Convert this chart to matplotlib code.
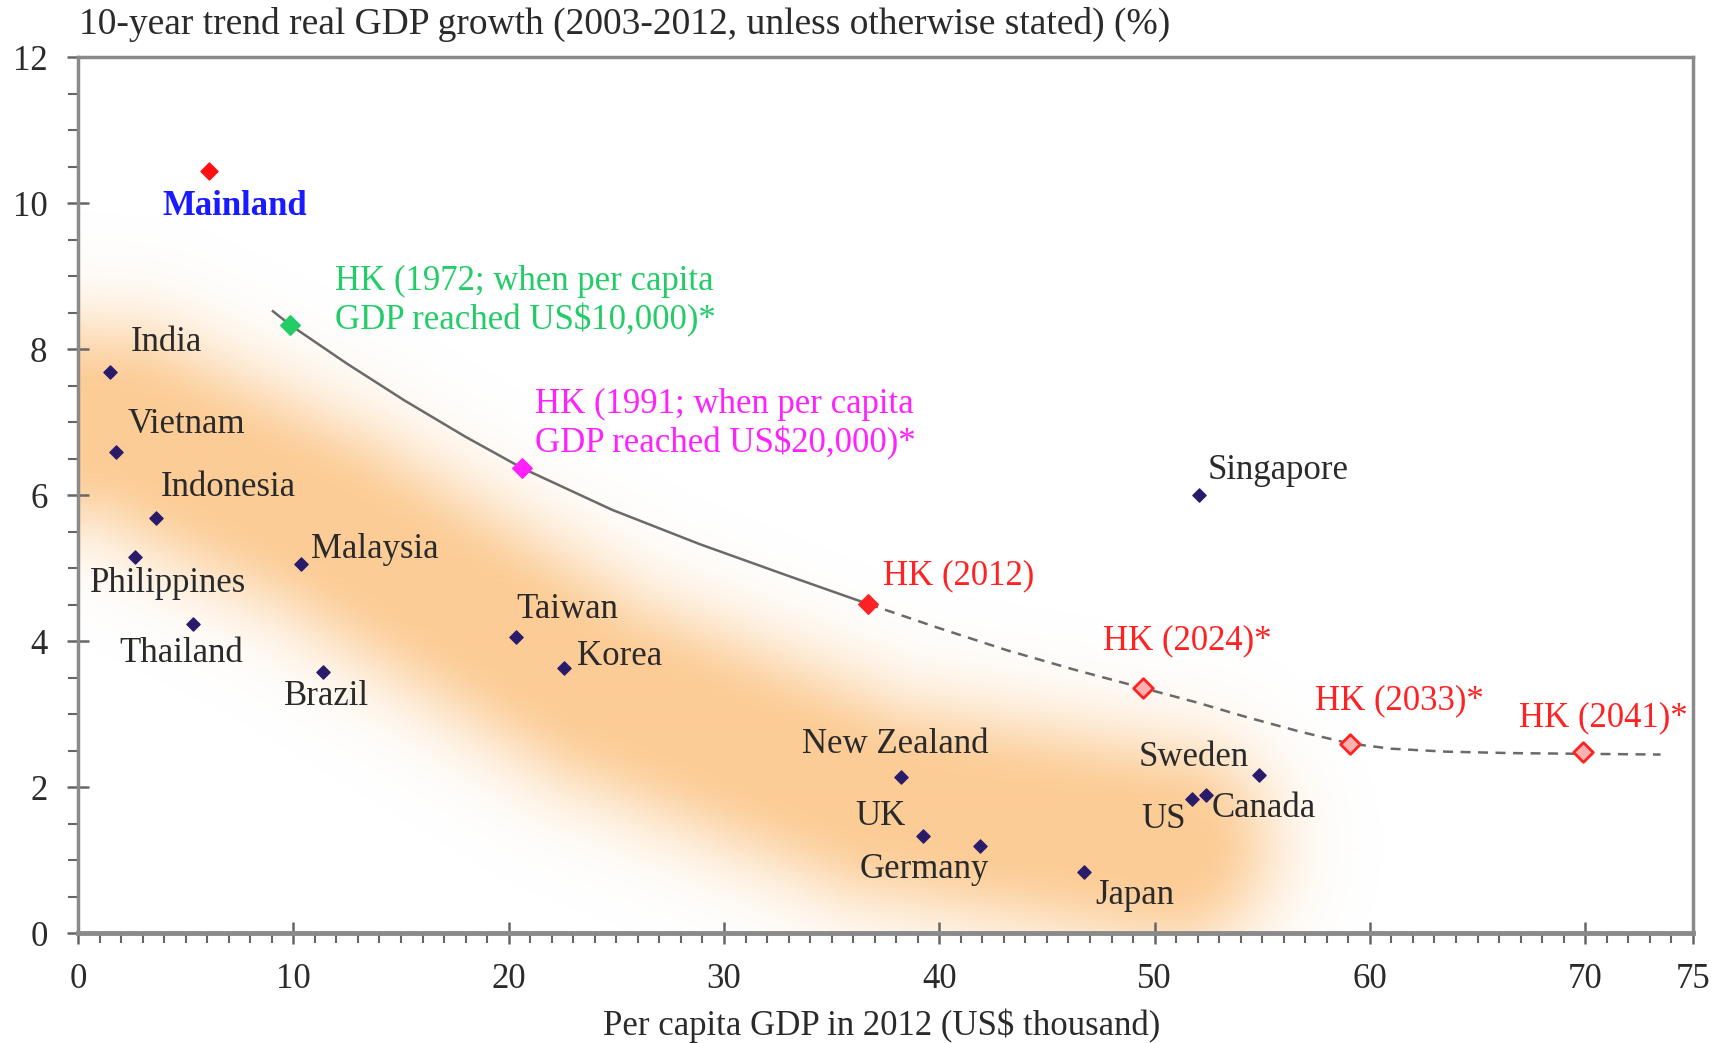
"""
plot.py
Trend real GDP growth vs per capita GDP, with the HK trajectory.
"""
import numpy as np
import matplotlib
matplotlib.use('Agg')
import matplotlib.pyplot as plt
from matplotlib.ticker import MultipleLocator, FixedLocator

plt.rcParams['font.family'] = ['Liberation Serif', 'DejaVu Serif']

# === DATA ===
countries = ['India', 'Vietnam', 'Indonesia', 'Philippines', 'Thailand', 'Brazil',
             'Malaysia', 'Taiwan', 'Korea', 'New Zealand', 'UK', 'Germany',
             'Japan', 'US', 'Canada', 'Sweden', 'Singapore']
gdp_pc = [1.47, 1.78, 3.61, 2.64, 5.34, 11.39, 10.37, 20.34, 22.58, 38.24, 39.25,
          41.9, 46.73, 51.76, 52.37, 54.86, 52.07]
growth = [7.69, 6.59, 5.69, 5.15, 4.24, 3.58, 5.06, 4.06, 3.64, 2.14, 1.33,
          1.20, 0.84, 1.84, 1.89, 2.17, 6.01]
# label anchor (left edge, vertical centre)
label_x = [2.44, 2.29, 3.86, 0.56, 1.93, 9.56, 10.83, 20.34, 23.19, 33.61, 36.1,
           36.3, 47.24, 49.37, 52.63, 49.27, 52.47]
label_y = [8.09, 6.97, 6.10, 4.79, 3.84, 3.24, 5.26, 4.43, 3.79, 2.59, 1.60,
           0.87, 0.52, 1.56, 1.71, 2.41, 6.34]

mainland = (6.1, 10.44)

hk_labels = ['HK (1972; when per capita\nGDP reached US$10,000)*',
             'HK (1991; when per capita\nGDP reached US$20,000)*',
             'HK (2012)', 'HK (2024)*', 'HK (2033)*', 'HK (2041)*']
hk_x = [9.86, 20.64, 36.71, 49.47, 59.08, 69.91]
hk_y = [8.33, 6.37, 4.51, 3.36, 2.59, 2.49]
hk_label_x = [11.95, 21.2, 37.37, 47.59, 57.46, 66.91]
hk_label_y = [8.66, 6.98, 4.90, 4.01, 3.18, 2.95]
hk_colors = ['#22cc66', '#ff22ff', '#ff2222', '#ff2222', '#ff2222', '#ff2222']

# trend line: solid up to 2012, dashed projection after
trend_x_solid = [9.05, 9.86, 12.5, 15.15, 18.0, 20.64, 24.81, 28.88, 32.95, 36.71]
trend_y_solid = [8.52, 8.33, 7.80, 7.30, 6.80, 6.37, 5.80, 5.33, 4.90, 4.51]
trend_x_dash = [36.71, 40.0, 43.12, 46.3, 49.47, 52.0, 54.3, 56.8, 59.08, 61.0,
                63.5, 66.5, 69.91, 73.5]
trend_y_dash = [4.51, 4.18, 3.88, 3.61, 3.36, 3.16, 2.96, 2.76, 2.60, 2.53,
                2.49, 2.47, 2.46, 2.45]

TEXT = '#2a2a2a'
SPINE = '#8a8a8a'
FS = 25

fig = plt.figure(figsize=(17.16, 10.43), dpi=100)
ax = fig.add_axes([0.0455, 0.105, 0.941, 0.8403])
ax.set_xlim(0, 75)
ax.set_ylim(0, 12)

# === ORANGE BAND (decorative shading) ===
W, H = 1615, 876
yy, xx = np.mgrid[0:H, 0:W]
xx = xx + 0.5
yy = H - (yy + 0.5)
# centre line of the band, axes fraction
path = np.array([[-0.01, 0.58], [0.03, 0.575], [0.155, 0.466], [0.324, 0.278],
                 [0.495, 0.153], [0.675, 0.100]])
path[:, 0] *= W
path[:, 1] *= H
dist = np.full(xx.shape, np.inf)
for (x0, y0), (x1, y1) in zip(path[:-1], path[1:]):
    dx, dy = x1 - x0, y1 - y0
    t = np.clip(((xx - x0) * dx + (yy - y0) * dy) / (dx * dx + dy * dy), 0, 1)
    d = np.hypot(xx - (x0 + t * dx), yy - (y0 + t * dy))
    dist = np.minimum(dist, d)
inten = 0.95 * np.exp(-(np.maximum(dist - 36, 0) / 76.0) ** 2)
band = np.zeros((H, W, 4))
band[..., 0] = 252 / 255
band[..., 1] = 202 / 255
band[..., 2] = 145 / 255
band[..., 3] = inten
ax.imshow(band, extent=[0, 1, 0, 1], transform=ax.transAxes, aspect='auto',
          zorder=0, interpolation='bilinear')

# === TREND LINE ===
ax.plot(trend_x_solid, trend_y_solid, color='#6a6a6a', lw=1.8, zorder=3)
ax.plot(trend_x_dash, trend_y_dash, color='#6a6a6a', lw=1.8, ls=(0, (4, 3)), zorder=3)

# === COUNTRIES ===
ax.scatter(gdp_pc, growth, marker='D', s=45, color='#2a1b6a', zorder=4)
for name, lx, ly in zip(countries, label_x, label_y):
    ax.text(lx, ly, name, fontsize=FS, color=TEXT, ha='left', va='center', zorder=5)

ax.scatter([mainland[0]], [mainland[1]], marker='D', s=75, color='#ff1010', zorder=4)
ax.text(3.92, 9.95, 'Mainland', fontsize=FS, color='#1a1aff', fontweight='bold',
        ha='left', va='center', zorder=5)

# === HK POINTS ===
for i, (x, y, c) in enumerate(zip(hk_x, hk_y, hk_colors)):
    if i < 3:
        ax.scatter([x], [y], marker='D', s=100, color=c, zorder=6)
    else:
        ax.scatter([x], [y], marker='D', s=100, facecolor='#ffb0b0', edgecolor=c,
                   linewidth=2, zorder=6)
for lab, lx, ly, c in zip(hk_labels, hk_label_x, hk_label_y, hk_colors):
    ax.text(lx, ly, lab, fontsize=FS, color=c, ha='left', va='center',
            linespacing=1.2, zorder=6)

# === AXES STYLE ===
for side in ['left', 'bottom', 'top', 'right']:
    ax.spines[side].set_color(SPINE)
    ax.spines[side].set_linewidth(2.5)
ax.spines['bottom'].set_linewidth(3.5)

ax.xaxis.set_major_locator(FixedLocator([0, 10, 20, 30, 40, 50, 60, 70, 75]))
ax.xaxis.set_minor_locator(MultipleLocator(1))
ax.yaxis.set_major_locator(MultipleLocator(2))
ax.yaxis.set_minor_locator(MultipleLocator(0.5))
ax.tick_params(axis='both', which='major', direction='inout', length=16, width=1.8,
               color='#666666', labelsize=FS, labelcolor=TEXT)
ax.tick_params(axis='both', which='minor', direction='out', length=7, width=1.5,
               color='#666666')
ax.tick_params(axis='x', which='major', pad=13)
ax.tick_params(axis='y', which='major', pad=14)

fig.text(0.046, 1 - 24 / 1043, '10-year trend real GDP growth (2003-2012, unless otherwise stated) (%)',
         fontsize=27, color=TEXT, ha='left', va='center')
fig.text(0.514, 0.017, 'Per capita GDP in 2012 (US$ thousand)', fontsize=FS, color=TEXT,
         ha='center', va='center')

fig.savefig('out.png', dpi=100)
